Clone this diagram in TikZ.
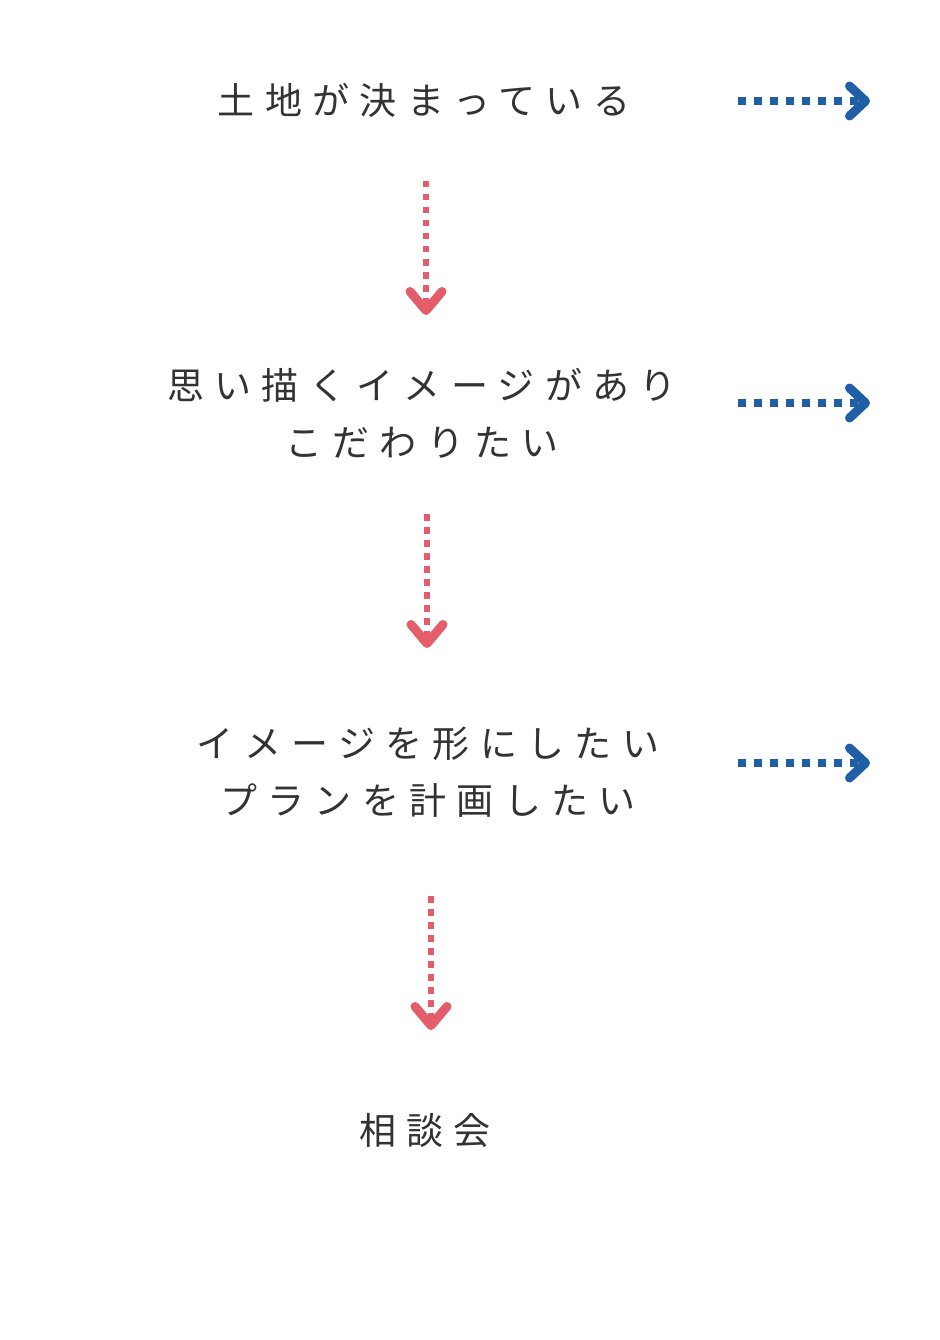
\documentclass[tikz,border=0pt]{standalone}
\usepackage{fontspec}
\newfontfamily\jp[LetterSpace=28]{Noto Sans CJK JP}
\usetikzlibrary{arrows.meta}
\definecolor{flowred}{HTML}{E35D6A}
\definecolor{flowblue}{HTML}{1F5FA5}
\definecolor{ink}{HTML}{333333}
\begin{document}
\begin{tikzpicture}[x=1pt, y=-1pt, line join=round,
		txt/.style={text=ink, font=\jp\fontsize{37}{57}\selectfont, align=center, inner sep=0pt},
		down/.style={flowred, line width=6.5pt, dash pattern=on 6.5pt off 6.5pt, -{Straight Barb[length=19pt, width=32pt, line width=9pt, round]}},
		side/.style={flowblue, line width=7.5pt, dash pattern=on 7.5pt off 8.5pt, -{Straight Barb[length=16pt, width=30pt, line width=9pt, round]}}]
	\useasboundingbox[fill=white] (0,0) rectangle (939,1340);
	% steps
	\node[txt] (land) at (424,100) {土地が決まっている};
	\node[txt] (image) at (422,413) {思い描くイメージがあり\\こだわりたい};
	\node[txt] (plan) at (428,772) {イメージを形にしたい\\プランを計画したい};
	\node[txt] (talk) at (425,1130) {相談会};
	% ends of the arrows
	\coordinate (d1a) at (426,181); \coordinate (d1b) at (426,315);
	\coordinate (d2a) at (427,514); \coordinate (d2b) at (427,648);
	\coordinate (d3a) at (431,896); \coordinate (d3b) at (431,1030);
	\coordinate (s1a) at (738,101); \coordinate (s1b) at (870,101);
	\coordinate (s2a) at (738,403); \coordinate (s2b) at (870,403);
	\coordinate (s3a) at (738,763); \coordinate (s3b) at (870,763);
	\draw[down] (d1a)--(d1b);
	\draw[down] (d2a)--(d2b);
	\draw[down] (d3a)--(d3b);
	\draw[side] (s1a)--(s1b);
	\draw[side] (s2a)--(s2b);
	\draw[side] (s3a)--(s3b);
\end{tikzpicture}
\end{document}
